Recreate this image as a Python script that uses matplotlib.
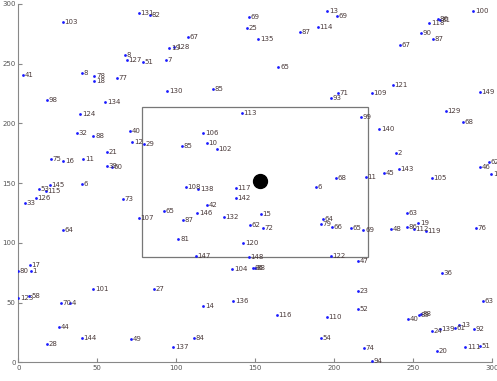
import matplotlib
matplotlib.use("Agg")
import matplotlib.pyplot as plt
from matplotlib.patches import Rectangle

# node ids and positions
ids = [103, 41, 8, 78, 18, 77, 98, 134, 124, 131, 82, 69, 25, 67, 19, 128, 8, 127, 51, 7,
       130, 85, 113, 13, 69, 114, 87, 135, 65, 71, 93, 109, 99, 100, 118, 86, 81, 90, 87, 67,
       121, 149, 129, 68, 140, 32, 88, 21, 75, 16, 11, 39, 60, 145, 53, 115, 6, 126, 33, 73,
       64, 40, 12, 29, 85, 106, 10, 102, 108, 138, 117, 142, 42, 146, 132, 65, 107, 87, 81, 120,
       62, 68, 11, 6, 15, 72, 64, 79, 66, 65, 69, 2, 143, 45, 105, 46, 62, 12, 63, 48,
       86, 112, 19, 119, 76, 17, 80, 1, 123, 58, 101, 70, 4, 44, 144, 28, 147, 148, 104, 27,
       136, 14, 49, 84, 137, 122, 47, 86, 88, 23, 52, 116, 110, 54, 74, 94, 36, 63, 40, 89,
       88, 24, 139, 61, 13, 92, 111, 51, 20]
xs = [28.1, 2.8, 40.1, 48.1, 48.1, 62.3, 18.0, 55.1, 39.1, 76.4, 83.4, 146.2, 144.6, 107.2, 95.6, 98.7, 67.5, 68.6, 79.1, 93.5,
      94.3, 123.4, 141.4, 195.6, 201.9, 189.5, 178.3, 151.9, 164.6, 202.5, 197.9, 223.7, 216.9, 288.0, 260.1, 265.8, 266.9, 254.7, 262.3, 241.6,
      237.0, 292.2, 270.7, 281.6, 228.5, 37.3, 47.5, 56.3, 20.5, 28.5, 41.1, 56.3, 59.5, 20.1, 13.1, 17.3, 40.1, 11.2, 4.2, 66.1,
      28.1, 70.7, 72.2, 79.6, 103.4, 117.1, 119.2, 125.6, 106.1, 113.9, 137.8, 137.8, 119.2, 113.3, 130.2, 92.2, 76.4, 104.1, 101.3, 142.4,
      146.6, 200.9, 219.9, 188.2, 153.6, 154.7, 192.7, 191.6, 198.4, 210.6, 218.4, 238.9, 240.9, 231.6, 261.8, 292.2, 297.9, 299.5, 245.8, 235.9,
      245.8, 250.4, 253.2, 258.0, 289.7, 7.4, 0.0, 7.8, 0.0, 7.0, 47.5, 27.0, 32.7, 25.8, 40.1, 18.0, 112.5, 146.0, 135.4, 86.1,
      136.1, 117.1, 71.3, 111.4, 98.1, 197.9, 214.8, 148.7, 149.8, 214.8, 214.8, 163.5, 195.2, 191.6, 218.8, 223.7, 268.0, 293.9, 246.8, 253.8,
      254.7, 262.0, 266.9, 276.4, 279.1, 288.4, 282.9, 292.2, 264.8]
ys = [285.2, 240.3, 242.5, 239.5, 235.3, 238.1, 219.7, 217.7, 207.7, 292.2, 290.8, 289.4, 280.2, 272.1, 262.9, 264.3, 257.3, 253.1, 251.2, 253.1,
      227.2, 229.1, 208.5, 294.4, 290.0, 281.0, 276.8, 270.5, 247.5, 225.8, 221.6, 225.3, 205.7, 294.4, 284.4, 287.2, 286.6, 275.5, 270.5, 265.7,
      232.2, 226.1, 210.5, 201.5, 195.4, 191.8, 189.8, 176.4, 170.0, 168.6, 170.5, 164.4, 163.3, 148.5, 144.9, 143.5, 149.6, 137.9, 133.2, 136.8,
      110.6, 193.7, 184.8, 182.6, 181.2, 191.8, 183.4, 178.4, 147.1, 144.9, 145.8, 137.9, 131.8, 125.4, 121.5, 126.8, 120.7, 119.2, 103.3, 99.7,
      115.1, 154.1, 155.5, 146.9, 124.5, 112.3, 120.1, 115.6, 113.6, 112.8, 110.6, 175.1, 161.7, 158.3, 154.1, 163.8, 168.0, 157.5, 124.9, 111.5,
      113.6, 111.5, 116.5, 110.0, 112.3, 81.6, 76.6, 76.6, 53.7, 55.6, 61.5, 50.0, 50.0, 29.5, 20.3, 15.2, 89.1, 88.3, 78.2, 61.5,
      51.7, 47.5, 19.7, 20.3, 13.2, 89.4, 85.2, 78.8, 78.8, 60.1, 44.5, 39.5, 38.3, 20.3, 12.4, 1.3, 75.1, 51.5, 36.2, 39.7,
      40.3, 26.4, 28.0, 29.1, 31.4, 27.8, 13.2, 14.1, 9.6]

# target and search window
target = (153, 152)
window = (78, 88.5, 143.5, 125)

fig = plt.figure(figsize=(4.97, 3.81), dpi=100)
ax = fig.add_axes([0.0368, 0.0486, 0.9537, 0.941])

ax.scatter(xs, ys, s=4, color="#1a1aff", zorder=3, linewidths=0)
for i, x, y in zip(ids, xs, ys):
    ax.annotate(str(i), (x, y), xytext=(1.2, 0), textcoords="offset points",
                va="center", ha="left", fontsize=5, color="#4a3a3a")

ax.add_patch(Rectangle(window[:2], window[2], window[3], fill=False,
                       edgecolor="#777777", linewidth=0.9))
ax.plot(*target, "o", color="black", markersize=10)

ax.set_xlim(0, 300)
ax.set_ylim(0, 300)
ax.set_xticks(range(0, 301, 50))
ax.set_yticks(range(0, 301, 50))
for s in ["top", "right"]:
    ax.spines[s].set_visible(False)
for s in ["left", "bottom"]:
    ax.spines[s].set_color("#888888")
ax.tick_params(direction="in", length=3, width=0.8, colors="#888888",
               labelsize=5, labelcolor="#555555", pad=2)

fig.savefig("out.png", dpi=100)
